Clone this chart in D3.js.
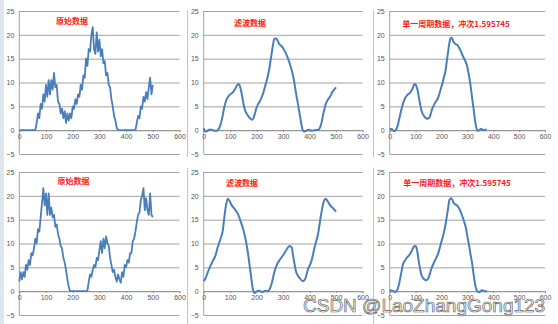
<!DOCTYPE html>
<html><head><meta charset="utf-8">
<script src="https://cdn.jsdelivr.net/npm/d3@7"></script>
<style>body{margin:0;background:#fff}svg{display:block}</style>
</head><body><svg id="c" width="558" height="324"></svg>
<script>
const xTicks=[0,100,200,300,400,500,600];
const yTicks=[-5,0,5,10,15,20,25];
const titles=["原始数据","滤波数据","单一周期数据，冲次1.595745","原始数据","滤波数据","单一周期数据，冲次1.595745"];
const rawStep=5;
const rawTop=[0,0,0,0,0,0,0,0,0,0,0,0,0,1.5,3.5,2.5,5.5,4.5,7.5,6,9.5,7,10.5,7.5,10.5,8.5,12,9,9.5,6,5.5,3.5,4.5,2.5,4,1.5,3.5,2,3.5,2.5,5,4.5,6.5,5.5,7.5,7,9.5,8.5,11.5,11,15,13.5,17,16.5,20,21.6,17,16,20.5,16.5,19,15.5,17,14,14.5,11.5,12,9.5,9,6.5,5,3,2,0.5,0,
0,0,0,0,0,0,0,0,0,0,0,0,0,1.5,3,2.5,5,4.5,7,6,8,6.5,9,11,7.5,9.5];
const rawBottom=[2,4,2.5,4,3,5.5,4.5,6.5,5.5,8,7.5,9,11,10,13,12.5,15.5,18.5,21.6,18,20.5,16,20.5,16,17.5,15.5,16,13.5,14,12,11,9.5,9,7,6,4.5,2.5,1,0,
0,0,0,0,0,0,0,0,0,0,0,0,0,
2,3.5,3,4.5,5.5,5,7,6.5,8.5,10.5,8,11,9,11.5,10,9.5,7,5.5,4,4.5,3,2,3.5,2.5,1.8,4,3,5.5,5,6.5,6,8,8,10.5,11,12.5,14.5,16,16.5,19,20,21.6,17,19.5,17,16,20.5,16,15.5];
const filtTop=[[0,0.4],[5,-0.2],[10,-0.3],[20,0.1],[30,0.1],[40,-0.1],[50,-0.1],[57,0.3],[62,0.9],[67,1.8],[72,3.1],[77,4.6],[82,5.7],[86,6.4],[92,7.0],[98,7.4],[105,7.7],[111,8.0],[118,8.6],[124,9.2],[131,9.7],[136,9.4],[140,8.6],[145,7.2],[150,5.6],[155,4.4],[160,3.7],[168,3.0],[175,2.5],[182,2.2],[187,2.4],[193,3.4],[199,4.6],[205,5.4],[212,6.0],[218,6.8],[225,7.8],[231,9.0],[237,10.2],[246,12.3],[251,14.0],[256,15.8],[261,17.6],[266,19.0],[272,19.3],[278,18.9],[284,18.2],[291,17.8],[300,17.2],[313,15.8],[325,14.0],[338,11.3],[350,7.4],[357,5.2],[363,3.2],[368,1.6],[372,0.4],[379,-0.3],[388,-0.1],[397,0.1],[407,-0.1],[420,0.0],[433,0.1],[438,0.4],[443,1.1],[447,2.0],[451,3.2],[456,4.4],[460,5.3],[466,6.1],[473,6.7],[480,7.3],[486,8.0],[493,8.5],[500,9.0]];
const singleTop=[[0,0.3],[8,0.2],[14,-0.1],[19,-0.2],[24,0.1],[28,0.5],[35,1.9],[40,3.1],[45,4.3],[54,6.0],[64,7.1],[70,7.5],[76,7.7],[82,8.1],[86,8.5],[91,9.1],[96,9.7],[100,9.6],[103,9.3],[108,8.3],[112,7.1],[117,5.6],[122,4.3],[126,3.6],[131,3.1],[138,2.6],[144,2.4],[150,2.5],[153,2.6],[158,3.3],[163,4.3],[170,5.2],[176,5.8],[183,6.4],[189,7.1],[195,8.2],[202,9.5],[208,10.8],[215,12.3],[220,14.2],[225,16.2],[230,18.1],[234,19.1],[238,19.4],[242,19.2],[246,18.6],[251,18.2],[257,18.0],[263,17.8],[268,17.3],[272,16.9],[278,16.1],[285,15.3],[292,14.5],[298,13.7],[305,11.8],[311,9.9],[316,7.8],[321,5.7],[326,3.7],[330,1.9],[334,0.7],[338,0.0],[342,-0.1],[346,0.0],[350,0.2],[353,0.3],[357,0.1],[362,0.0],[368,0.1],[375,0.1]];
const filtBottom=[[0,2.1],[6,2.6],[15,3.9],[24,5.1],[34,6.3],[44,7.4],[53,9.2],[63,10.9],[72,12.7],[78,15.5],[85,18.3],[91,19.4],[97,19.0],[106,18.0],[116,17.3],[129,16.2],[141,14.4],[154,12.0],[167,8.1],[177,3.9],[186,0.4],[192,-0.4],[201,0.0],[211,0.1],[221,-0.2],[234,0.1],[242,0.0],[249,0.4],[259,2.1],[268,4.2],[277,5.6],[289,6.7],[302,7.7],[314,8.8],[324,9.5],[332,9.2],[340,6.7],[350,3.9],[362,2.8],[375,2.1],[383,2.5],[394,4.6],[407,6.3],[419,9.2],[432,12.0],[444,16.2],[453,18.7],[461,19.4],[470,18.7],[478,18.0],[489,17.4],[500,16.7]];
const singleBottom=[[0,0.2],[8,0.1],[15,0.0],[22,-0.2],[27,0.1],[31,0.5],[36,1.5],[41,2.8],[46,4.2],[51,5.6],[55,6.1],[60,6.5],[66,7.0],[71,7.3],[80,7.9],[89,8.9],[96,9.5],[100,9.5],[103,9.2],[108,7.9],[112,6.3],[117,4.8],[122,3.5],[126,3.0],[131,2.6],[140,2.3],[145,2.4],[150,2.8],[155,3.6],[161,4.7],[167,5.5],[174,6.3],[180,7.0],[186,7.7],[193,9.0],[199,10.2],[206,11.6],[212,13.0],[217,14.4],[221,15.8],[226,17.5],[230,19.0],[234,19.4],[238,19.5],[242,19.2],[247,18.5],[253,18.2],[260,18.0],[265,17.6],[269,17.3],[276,16.4],[282,15.5],[288,14.5],[294,13.4],[300,11.5],[307,9.5],[312,7.8],[318,6.0],[323,4.0],[328,2.1],[332,0.9],[337,0.1],[341,-0.1],[346,-0.2],[351,0.0],[356,0.2],[361,0.1],[366,0.0],[376,0.0]];

const svg=d3.select("#c");
const cols=[[19.3,179.5],[203.7,362.5],[389.7,545]];
const rows=[[11,154],[172,315]];
const titlePos=[[72,20.5],[250,22.5],[456,23],[73.5,180.5],[242,182.7],[457,182.7]];
const lineColor="#4a7ebb", gridColor="#8c8c8c";

// decorations
svg.append("rect").attr("x",0).attr("y",0).attr("width",4).attr("height",324).attr("fill","#dfe5ee");
[[187.5,10,157],[187.5,168,324],[373.5,10,157],[373.5,168,324]].forEach(s=>{
  svg.append("line").attr("x1",s[0]).attr("x2",s[0]).attr("y1",s[1]).attr("y2",s[2]).attr("stroke","#c4c4c4").attr("stroke-width",1);
});

const seriesList=[
  rawTop.map((v,i)=>[i*rawStep,v]), filtTop, singleTop,
  rawBottom.map((v,i)=>[i*rawStep,v]), filtBottom, singleBottom
];

for(let p=0;p<6;p++){
  const c=cols[p%3], r=rows[Math.floor(p/3)];
  const x=d3.scaleLinear().domain([0,600]).range(c);
  const y=d3.scaleLinear().domain([25,-5]).range(r);
  const g=svg.append("g");
  const ya=d3.axisLeft(y).tickValues(yTicks).tickSize(-(c[1]-c[0])).tickPadding(5).tickFormat(d3.format("d"));
  const gy=g.append("g").attr("transform",`translate(${c[0]},0)`).call(ya);
  gy.select(".domain").remove();
  gy.selectAll("line").attr("stroke",gridColor).attr("stroke-width",0.8);
  gy.selectAll("text").attr("font-family","Liberation Sans, Arial, sans-serif").attr("font-size",7).attr("fill","#555");
  g.append("line").attr("x1",c[0]).attr("x2",c[0]).attr("y1",r[0]).attr("y2",r[1]).attr("stroke",gridColor).attr("stroke-width",0.8);
  const xa=d3.axisBottom(x).tickValues(xTicks).tickSize(2).tickPadding(2).tickFormat(d3.format("d"));
  const gx=g.append("g").attr("transform",`translate(0,${y(0)})`).call(xa);
  gx.select(".domain").attr("stroke",gridColor).attr("stroke-width",0.8);
  gx.selectAll("line").attr("stroke",gridColor).attr("stroke-width",0.8);
  gx.selectAll("text").attr("font-family","Liberation Sans, Arial, sans-serif").attr("font-size",7).attr("fill","#555");
  const isRaw=(p%3===0);
  const line=d3.line().x(d=>x(d[0])).y(d=>y(d[1])).curve(isRaw?d3.curveLinear:d3.curveMonotoneX);
  g.append("path").datum(seriesList[p]).attr("d",line).attr("fill","none")
    .attr("stroke",lineColor).attr("stroke-width",isRaw?1.8:2).attr("stroke-linejoin","round");
  g.append("text").attr("x",titlePos[p][0]).attr("y",titlePos[p][1]).attr("text-anchor","middle")
    .attr("dominant-baseline","central").attr("font-family","Noto Sans CJK SC, sans-serif")
    .attr("font-weight","bold").attr("font-size",8).attr("fill","#ff1a1a").text(titles[p]);
}

svg.append("text").attr("x",303).attr("y",312).attr("font-family","Liberation Sans, Arial, sans-serif")
  .attr("font-size",19).attr("fill","rgba(255,255,255,0.55)").attr("stroke","#666").attr("stroke-width",0.7)
  .text("CSDN @LaoZhangGong123");
</script></body></html>
